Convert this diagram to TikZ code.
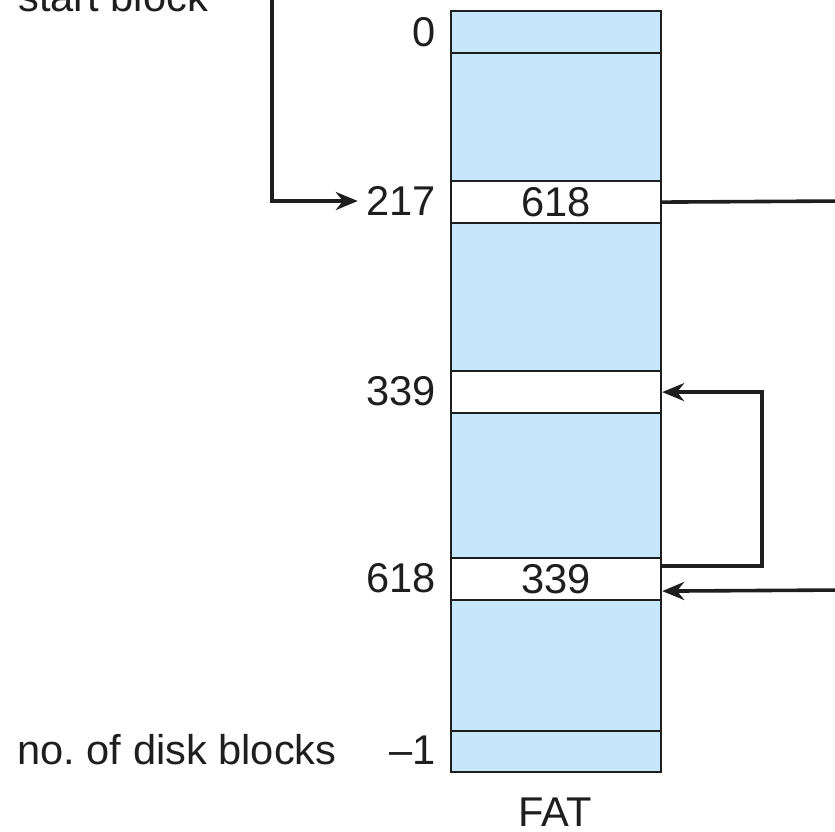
\documentclass[tikz,border=0pt]{standalone}
\usepackage{fontspec}
\setmainfont{Liberation Sans}
\usetikzlibrary{arrows.meta,calc}
\definecolor{fatblue}{HTML}{C6E7F9}
\definecolor{ink}{HTML}{1E1E1E}
\frenchspacing
\begin{document}
\begin{tikzpicture}[x=0.5pt,y=-0.5pt,
  every node/.style={font=\fontsize{20.8}{24}\selectfont, text=ink},
  cell/.style={draw=ink, line width=1.1pt, minimum width=105pt, inner sep=0pt, anchor=north west},
  bluecell/.style={cell, fill=fatblue},
  whitecell/.style={cell, fill=white},
  lbl/.style={anchor=east, inner sep=1pt},
  arr/.style={draw=ink, line width=1.8pt, -{Stealth[length=11pt,width=9pt]}},
  link/.style={draw=ink, line width=1.8pt}]
\useasboundingbox (0,0) rectangle (835,831);
% FAT cells
\node[bluecell, minimum height=21pt] (c0) at (450,10) {};
\node[bluecell, minimum height=64pt] (b1) at (450,52) {};
\node[whitecell, minimum height=21pt] (c217) at (450,180) {618};
\node[bluecell, minimum height=74pt] (b2) at (450,222) {};
\node[whitecell, minimum height=21pt] (c339) at (450,370) {};
\node[bluecell, minimum height=72.5pt] (b3) at (450,412) {};
\node[whitecell, minimum height=21pt] (c618) at (450,557) {339};
\node[bluecell, minimum height=65.5pt] (b4) at (450,599) {};
\node[bluecell, minimum height=20.5pt] (cend) at (450,730) {};
% index labels
\node[lbl] (l0) at (438,32) {0};
\node[lbl] (l217) at (438,201) {217};
\node[lbl] (l339) at (438,391) {339};
\node[lbl] (l618) at (438,578) {618};
\node[lbl] (lend) at (438,750) {–1};
\node[anchor=west, inner sep=0pt] (ndb) at (17,750) {no. of disk blocks};
\node[anchor=base west, inner sep=0pt] (sb) at (18,11) {start block};
\node[anchor=base, inner sep=0pt] (fat) at (555,826) {FAT};
% connectors
\coordinate (top) at (272,-20);
\coordinate (rA) at (845,201);
\coordinate (rB) at (845,590);
\draw[arr] (top) |- ([xshift=-3pt]l217.west);
\draw[link] (c217.east) -- (rA);
\draw[arr] (rB) -- ([yshift=-6pt]c618.east);
\draw[arr] ([yshift=6.5pt]c618.east) -- ++(50pt,0) |- (c339.east);
\end{tikzpicture}
\end{document}
